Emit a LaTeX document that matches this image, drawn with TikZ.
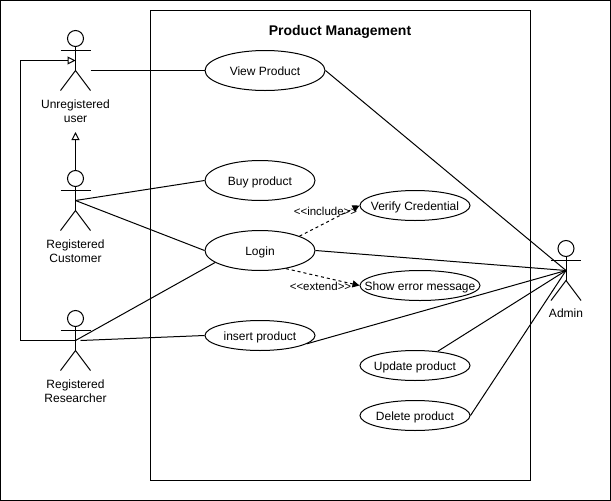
\documentclass[tikz,border=0pt]{standalone}
\usepackage{fontspec}
\setmainfont{Liberation Sans}
\usetikzlibrary{arrows.meta,shapes.geometric}
\tikzset{
  usecase/.style={draw=black, fill=white, ellipse, inner sep=0pt, font=\fontsize{12}{14}\selectfont},
  actorhead/.style={draw=black, fill=white, circle, inner sep=0pt, minimum size=16},
  caption/.style={align=center, font=\fontsize{12}{14}\selectfont},
  relation/.style={font=\fontsize{11.5}{14}\selectfont},
  generalize/.style={-{Triangle[open,length=8pt,width=8pt]}},
  dependency/.style={dashed, -{Triangle[length=7pt,width=7pt]}}
}
\newcommand{\actorfig}[3]{
  \coordinate (#1) at (#2,#3);
  \node[actorhead] (#1head) at (#2,#3-22) {};
  \draw (#1head) -- (#2,#3+10);
  \draw (#2-15,#3-10) -- (#2+15,#3-10);
  \draw (#2-15,#3+30) -- (#2,#3+10) -- (#2+15,#3+30);
}
\newcommand{\casetext}[1]{\makebox[0pt]{\raisebox{-5pt}[0pt][0pt]{#1}}}
\begin{document}
\begin{tikzpicture}[x=1pt, y=-1pt, line width=1pt]
\useasboundingbox (0,0) rectangle (611,501);
\draw[black] (0.5,0.5) rectangle (610.5,500.5);
\draw[black] (150.5,10.5) rectangle (530.5,480.5);
\node[font=\fontsize{14}{16}\selectfont\bfseries] (title) at (340,31.5) {Product Management};
% actors
\actorfig{unregistered}{75.5}{60.5}
\actorfig{customer}{75.5}{200.5}
\actorfig{researcher}{75.5}{340.5}
\actorfig{admin}{566}{270.5}
\node[caption] (unregisteredtext) at (75.5,111) {Unregistered\\user};
\node[caption] (customertext) at (75.5,251) {Registered\\Customer};
\node[caption] (researchertext) at (75.5,391) {Registered\\Researcher};
\node[caption] (admintext) at (566,313.5) {Admin};
% use cases
\node[usecase, minimum width=120, minimum height=40] (view) at (265,70.5) {\casetext{View Product}};
\node[usecase, minimum width=110, minimum height=40] (buy) at (260,180.5) {\casetext{Buy product}};
\node[usecase, minimum width=110, minimum height=40] (login) at (260,250.5) {\casetext{Login}};
\node[usecase, minimum width=110, minimum height=30] (insert) at (260,335.5) {\casetext{insert product}};
\node[usecase, minimum width=110, minimum height=30] (verify) at (415,205.5) {\casetext{Verify Credential}};
\node[usecase, minimum width=120, minimum height=30] (showerror) at (420,285.5) {\casetext{Show error message}};
\node[usecase, minimum width=110, minimum height=30] (update) at (415,365.5) {\casetext{Update product}};
\node[usecase, minimum width=110, minimum height=30] (delete) at (415,415.5) {\casetext{Delete product}};
% free ends
\coordinate (unregisteredend) at (90.5,70.5);
\coordinate (researcherend) at (80.5,340.5);
\coordinate (customertop) at (75.5,132);
\coordinate (researcherleft) at (20.5,340.5);
\coordinate (unregisteredleft) at (20.5,60.5);
% connectors
\draw (unregisteredend) -- (view);
\draw[generalize] (customerhead) -- (customertop);
\draw[generalize] (researcher) -- (researcherleft) -- (unregisteredleft) -- (unregistered);
\draw (customer) -- (buy.west);
\draw (customer) -- (login.west);
\draw (researcher) -- (login.-165.7);
\draw (researcherend) -- (insert.west);
\draw (view.east) -- (admin);
\draw (login.east) -- (admin);
\draw (insert.-10.8) -- (admin);
\draw (update.32) -- (admin);
\draw (delete.east) -- (admin);
\draw[dependency] (login.20) -- (verify.west);
\draw[dependency] (login.-35.5) -- (showerror.west);
\node[relation] (includetext) at (325.5,211) {{<}{<}include{>}{>}};
\node[relation] (extendtext) at (320.5,286) {{<}{<}extend{>}{>}};
\end{tikzpicture}
\end{document}
